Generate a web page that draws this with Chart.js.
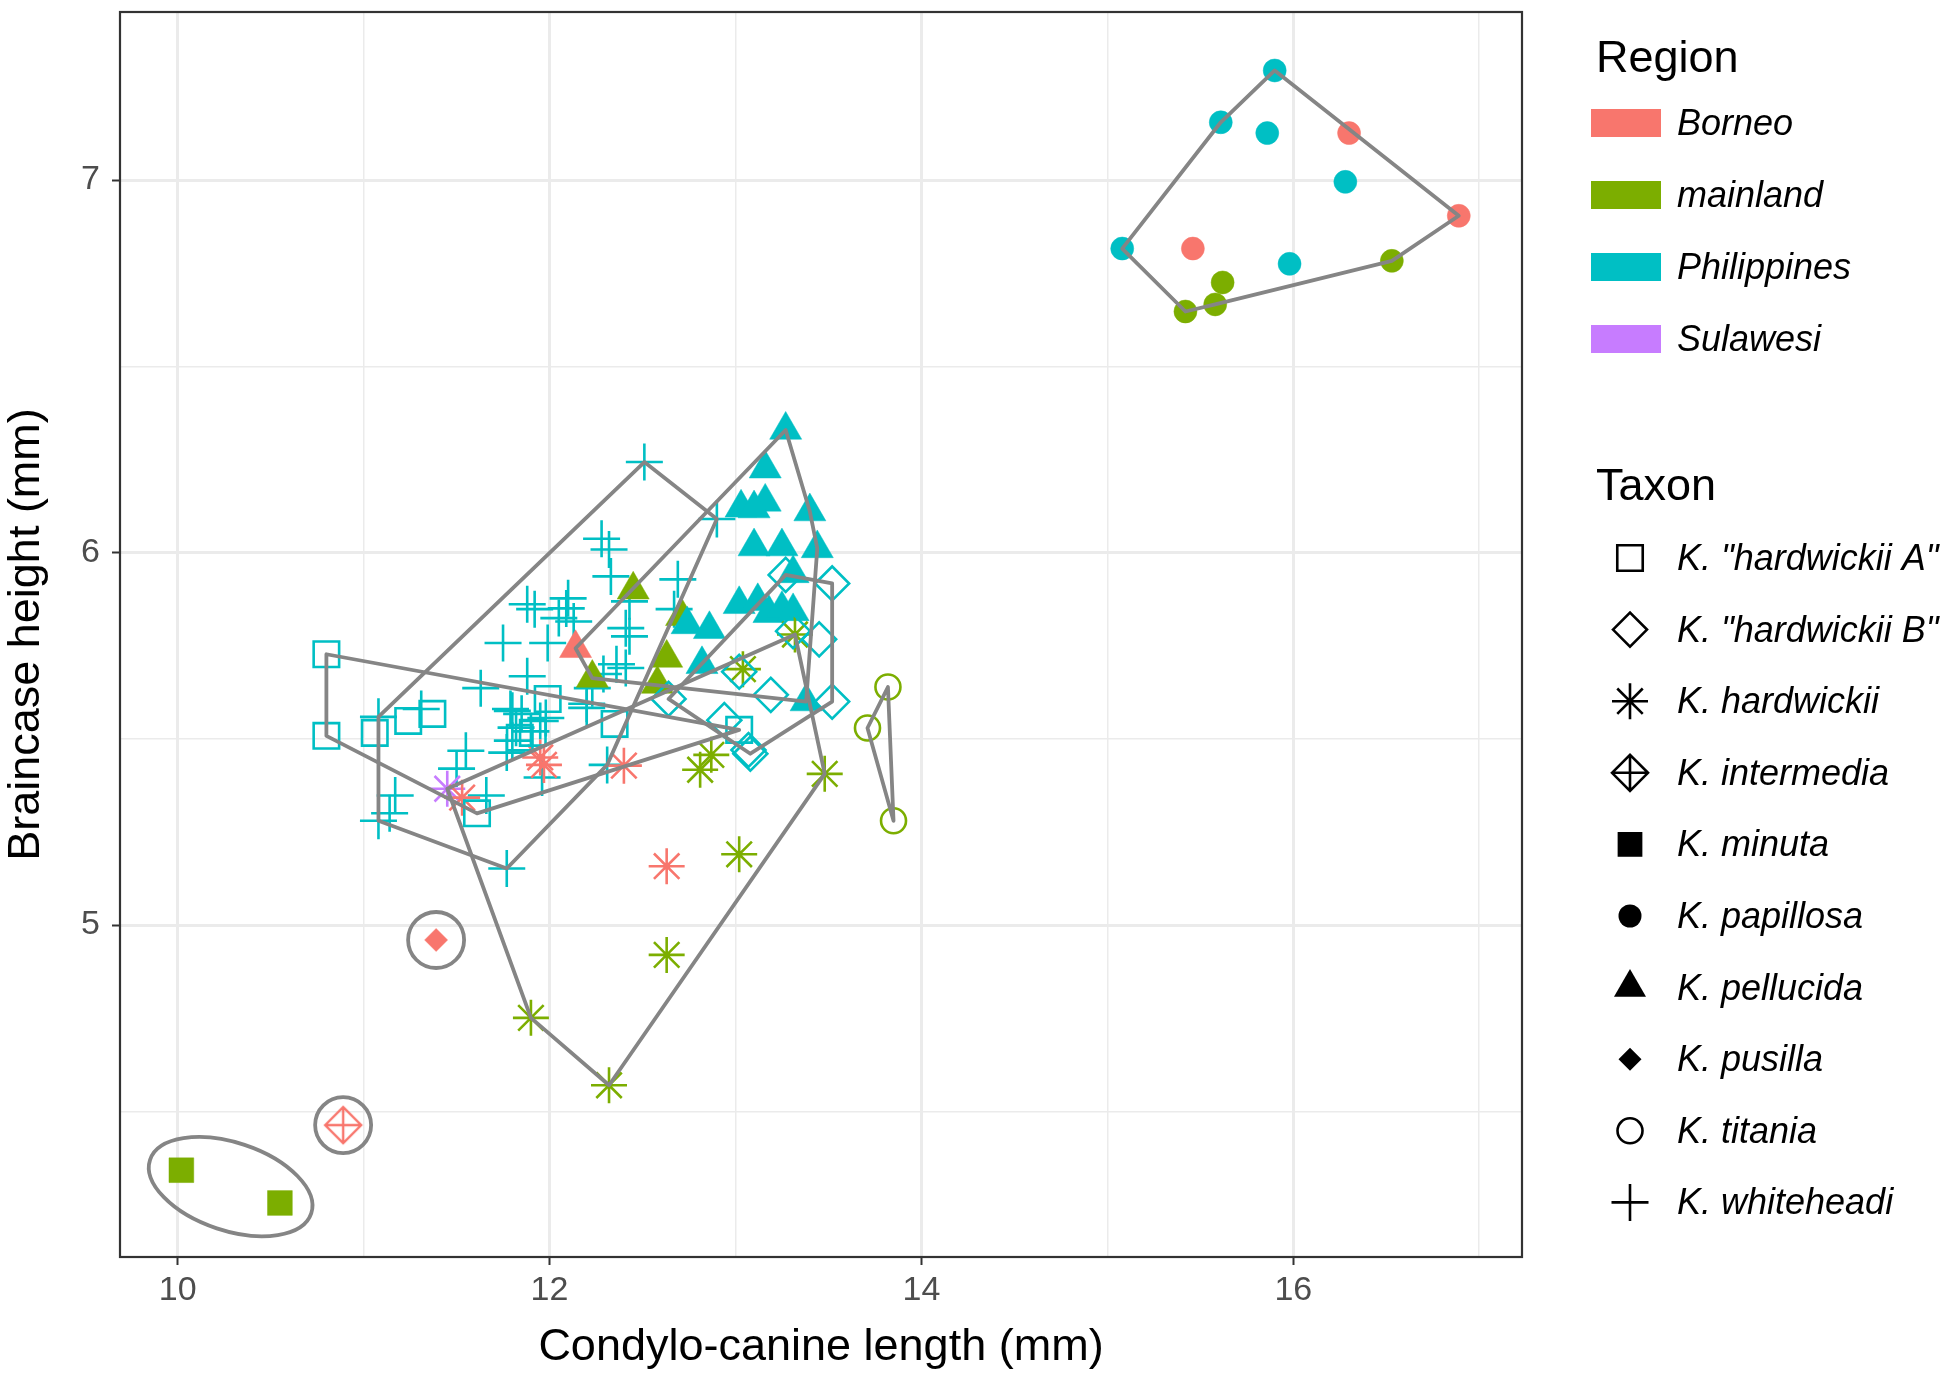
<!DOCTYPE html>
<html>
<head>
<meta charset="utf-8">
<script src="https://cdn.jsdelivr.net/npm/chart.js@4.4.0/dist/chart.umd.min.js"></script>
<style>html,body{margin:0;padding:0;background:#fff}</style>
</head>
<body>
<canvas id="c" width="1948" height="1382"></canvas>
<script>
// region / taxon names
const regions = ['Borneo', 'mainland', 'Philippines', 'Sulawesi'];
const regionColors = ['#F8766D', '#7CAE00', '#00BFC4', '#C77CFF'];
const taxa = ['K. "hardwickii A"', 'K. "hardwickii B"', 'K. hardwickii', 'K. intermedia', 'K. minuta',
  'K. papillosa', 'K. pellucida', 'K. pusilla', 'K. titania', 'K. whiteheadi'];

// axis breaks
const xBreaks = [10, 11, 12, 13, 14, 15, 16, 17];
const xLabels = [10, 12, 14, 16];
const yBreaks = [4.5, 5, 5.5, 6, 6.5, 7];
const yLabels = [5, 6, 7];

// [condylo-canine length, braincase height]
const hardA_phil = [[10.80,5.727],[10.80,5.508],[11.06,5.516],[11.24,5.548],[11.37,5.567],[11.61,5.30],
  [11.84,5.503],[11.91,5.516],[11.99,5.607],[12.35,5.54],[13.02,5.524]];
const hardB_phil = [[12.64,5.607],[12.94,5.55],[13.08,5.46],[13.07,5.47],[13.19,5.618],[13.52,5.60],
  [13.45,5.767],[13.52,5.917],[13.27,5.94],[13.02,5.68],[13.31,5.789]];
const hardw_born = [[11.53,5.342],[11.95,5.45],[11.97,5.43],[12.40,5.428],[12.63,5.158]];
const hardw_main = [[11.90,4.751],[12.32,4.57],[12.63,4.92],[13.02,5.19],[13.48,5.406],[12.81,5.417],
  [12.87,5.457],[13.04,5.687],[13.32,5.78]];
const hardw_sula = [[11.45,5.366]];
const inter_born = [[10.89,4.463]];
const minuta_main = [[10.02,4.342],[10.55,4.254]];
const papil_phil = [[15.90,7.294],[15.61,7.155],[15.86,7.126],[16.28,6.995],[15.08,6.816],[15.98,6.775]];
const papil_born = [[16.30,7.126],[16.89,6.904],[15.46,6.816]];
const papil_main = [[16.53,6.783],[15.62,6.725],[15.58,6.666],[15.42,6.647]];
const pellu_phil = [[13.27,6.329],[13.16,6.225],[13.03,6.12],[13.16,6.136],[13.10,6.118],[13.40,6.11],
  [13.10,6.016],[13.25,6.016],[13.44,6.011],[13.31,5.944],[13.02,5.861],[13.12,5.869],[13.18,5.837],
  [13.25,5.848],[13.31,5.842],[12.74,5.807],[12.86,5.794],[12.82,5.70],[13.38,5.60]];
const pellu_main = [[12.45,5.90],[12.71,5.829],[12.63,5.717],[12.58,5.647],[12.23,5.663]];
const pellu_born = [[12.14,5.743]];
const pusil_born = [[11.39,4.96]];
const titan_main = [[13.82,5.639],[13.71,5.529],[13.85,5.28]];
const white_phil = [[12.51,6.243],[12.90,6.09],[12.28,6.037],[12.32,6.008],[12.33,5.936],[12.69,5.928],
  [12.67,5.848],[11.88,5.861],[11.92,5.848],[12.10,5.877],[12.05,5.824],[12.13,5.815],[12.09,5.85],
  [11.75,5.757],[11.99,5.757],[12.41,5.797],[12.43,5.775],[12.43,5.869],[11.88,5.668],[12.36,5.70],
  [12.41,5.69],[11.63,5.636],[12.23,5.636],[12.29,5.674],[11.80,5.575],[11.85,5.567],[12.20,5.594],
  [11.08,5.559],[11.31,5.58],[11.55,5.468],[11.50,5.42],[11.66,5.348],[11.17,5.348],[11.14,5.30],
  [11.08,5.28],[11.79,5.58],[11.82,5.53],[11.90,5.52],[11.95,5.548],[11.98,5.556],[11.77,5.463],
  [11.80,5.495],[11.96,5.396],[11.77,5.152],[12.31,5.43],[12.20,5.583]];

// taxon index, region index, points
const series = [
  [0, 2, hardA_phil], [1, 2, hardB_phil],
  [2, 0, hardw_born], [2, 1, hardw_main], [2, 3, hardw_sula],
  [3, 0, inter_born], [4, 1, minuta_main],
  [5, 2, papil_phil], [5, 0, papil_born], [5, 1, papil_main],
  [6, 2, pellu_phil], [6, 1, pellu_main], [6, 0, pellu_born],
  [7, 0, pusil_born], [8, 1, titan_main], [9, 2, white_phil]
];

// marker per taxon
const shapes = [
  {style: 'rect', r: 18, fill: false},
  {style: 'rectRot', r: 17, fill: false},
  {style: 'star', r: 18, fill: false},
  {style: 'diamondPlus', r: 18, fill: false},
  {style: 'rect', r: 17.5, fill: true},
  {style: 'circle', r: 11.5, fill: true},
  {style: 'triangle', r: 18.5, fill: true},
  {style: 'rectRot', r: 11.5, fill: true},
  {style: 'circle', r: 12.5, fill: false},
  {style: 'cross', r: 18.5, fill: false}
];

const FONT = 'Liberation Sans, Arial, sans-serif';
Chart.defaults.font.family = FONT;

function diamondPlus(color, r) {
  const c = document.createElement('canvas');
  const s = Math.ceil(2 * r + 6);
  c.width = s; c.height = s;
  const g = c.getContext('2d');
  const m = s / 2;
  g.strokeStyle = color; g.lineWidth = 2.4;
  g.beginPath();
  g.moveTo(m - r, m); g.lineTo(m, m - r); g.lineTo(m + r, m); g.lineTo(m, m + r); g.closePath();
  g.moveTo(m - r, m); g.lineTo(m + r, m);
  g.moveTo(m, m - r); g.lineTo(m, m + r);
  g.stroke();
  return c;
}

const datasets = series.map(([t, rg, pts]) => {
  const sh = shapes[t];
  const col = regionColors[rg];
  return {
    label: taxa[t] + ' / ' + regions[rg],
    data: pts.map(p => ({x: p[0], y: p[1]})),
    pointStyle: sh.style === 'diamondPlus' ? diamondPlus(col, sh.r) : sh.style,
    pointRadius: sh.r,
    borderColor: col,
    backgroundColor: sh.fill ? col : 'rgba(0,0,0,0)',
    borderWidth: sh.fill ? 0.5 : 2.6,
    showLine: false
  };
});

// convex hull (monotone chain) in pixel space
function hull(pts) {
  const p = pts.slice().sort((a, b) => a[0] - b[0] || a[1] - b[1]);
  const cross = (o, a, b) => (a[0] - o[0]) * (b[1] - o[1]) - (a[1] - o[1]) * (b[0] - o[0]);
  const lo = [], up = [];
  for (const q of p) { while (lo.length >= 2 && cross(lo[lo.length - 2], lo[lo.length - 1], q) <= 0) lo.pop(); lo.push(q); }
  for (let i = p.length - 1; i >= 0; i--) { const q = p[i]; while (up.length >= 2 && cross(up[up.length - 2], up[up.length - 1], q) <= 0) up.pop(); up.push(q); }
  up.pop(); lo.pop();
  return lo.concat(up);
}

const hullPlugin = {
  id: 'hulls',
  afterDatasetsDraw(chart) {
    const {ctx, scales: {x, y}, chartArea: a} = chart;
    ctx.save();
    ctx.beginPath(); ctx.rect(a.left, a.top, a.right - a.left, a.bottom - a.top); ctx.clip();
    ctx.strokeStyle = '#858585'; ctx.lineWidth = 3.8; ctx.lineJoin = 'round';
    taxa.forEach((t, ti) => {
      const pts = series.filter(s => s[0] === ti).flatMap(s => s[2])
        .map(p => [x.getPixelForValue(p[0]), y.getPixelForValue(p[1])]);
      ctx.beginPath();
      if (pts.length === 1) {
        ctx.arc(pts[0][0], pts[0][1], 28, 0, Math.PI * 2);
      } else if (pts.length === 2) {
        const cx = (pts[0][0] + pts[1][0]) / 2, cy = (pts[0][1] + pts[1][1]) / 2;
        const dx = pts[1][0] - pts[0][0], dy = pts[1][1] - pts[0][1];
        ctx.ellipse(cx, cy, Math.hypot(dx, dy) / 2 + 33, 44, Math.atan2(dy, dx), 0, Math.PI * 2);
      } else {
        const h = hull(pts);
        h.forEach((p, i) => i ? ctx.lineTo(p[0], p[1]) : ctx.moveTo(p[0], p[1]));
        ctx.closePath();
      }
      ctx.stroke();
    });
    ctx.restore();
    // panel border
    ctx.save();
    ctx.strokeStyle = '#333333'; ctx.lineWidth = 2.2;
    ctx.strokeRect(a.left, a.top, a.right - a.left, a.bottom - a.top);
    ctx.restore();
  }
};

function drawSymbol(ctx, sh, x, y, color) {
  const r = sh.r;
  ctx.save();
  ctx.strokeStyle = color; ctx.fillStyle = color; ctx.lineWidth = 2.6;
  ctx.beginPath();
  switch (sh.style) {
    case 'rect': { const s = r * Math.SQRT1_2; ctx.rect(x - s, y - s, 2 * s, 2 * s); break; }
    case 'rectRot': ctx.moveTo(x - r, y); ctx.lineTo(x, y - r); ctx.lineTo(x + r, y); ctx.lineTo(x, y + r); ctx.closePath(); break;
    case 'circle': ctx.arc(x, y, r, 0, Math.PI * 2); break;
    case 'triangle': {
      for (let k = 0; k < 3; k++) { const ang = k * 2 * Math.PI / 3; const px = x + Math.sin(ang) * r, py = y - Math.cos(ang) * r; k ? ctx.lineTo(px, py) : ctx.moveTo(px, py); }
      ctx.closePath(); break;
    }
    case 'cross': ctx.moveTo(x - r, y); ctx.lineTo(x + r, y); ctx.moveTo(x, y - r); ctx.lineTo(x, y + r); break;
    case 'star': {
      const d = r * Math.SQRT1_2;
      ctx.moveTo(x - r, y); ctx.lineTo(x + r, y); ctx.moveTo(x, y - r); ctx.lineTo(x, y + r);
      ctx.moveTo(x - d, y - d); ctx.lineTo(x + d, y + d); ctx.moveTo(x - d, y + d); ctx.lineTo(x + d, y - d); break;
    }
    case 'diamondPlus':
      ctx.moveTo(x - r, y); ctx.lineTo(x, y - r); ctx.lineTo(x + r, y); ctx.lineTo(x, y + r); ctx.closePath();
      ctx.moveTo(x - r, y); ctx.lineTo(x + r, y); ctx.moveTo(x, y - r); ctx.lineTo(x, y + r); break;
  }
  if (sh.fill) ctx.fill(); else ctx.stroke();
  ctx.restore();
}

const legendPlugin = {
  id: 'twoLegends',
  afterDraw(chart) {
    const ctx = chart.ctx;
    ctx.save();
    ctx.fillStyle = '#000';
    ctx.textAlign = 'left';
    ctx.textBaseline = 'alphabetic';
    ctx.font = '45px ' + FONT;
    ctx.fillText('Region', 1596, 72);
    ctx.font = 'italic 36px ' + FONT;
    ctx.textBaseline = 'middle';
    regions.forEach((r, i) => {
      const cy = 123 + i * 72;
      ctx.fillStyle = regionColors[i];
      ctx.fillRect(1591, cy - 14, 70, 28);
      ctx.fillStyle = '#000';
      ctx.fillText(r, 1677, cy + 2);
    });
    ctx.textBaseline = 'alphabetic';
    ctx.font = '45px ' + FONT;
    ctx.fillText('Taxon', 1596, 500);
    ctx.textBaseline = 'middle';
    ctx.font = 'italic 36px ' + FONT;
    taxa.forEach((t, i) => {
      const cy = 558 + i * 71.6;
      drawSymbol(ctx, shapes[i], 1630, cy, '#000');
      ctx.fillStyle = '#000';
      ctx.fillText(t, 1677, cy + 2);
    });
    ctx.restore();
  }
};

function gridOpts(labels) {
  return {
    color: '#EBEBEB',
    lineWidth: c => labels.includes(c.tick.value) ? 3 : 1.5,
    tickColor: c => labels.includes(c.tick.value) ? '#333333' : 'rgba(0,0,0,0)',
    tickWidth: 2,
    tickLength: 8,
    drawTicks: true
  };
}

new Chart(document.getElementById('c'), {
  type: 'scatter',
  data: {datasets: datasets},
  options: {
    responsive: false,
    animation: false,
    layout: {autoPadding: false, padding: {left: 0, right: 426, top: 12, bottom: 0}},
    plugins: {legend: {display: false}, tooltip: {enabled: false}},
    scales: {
      x: {
        type: 'linear', min: 9.69, max: 17.23,
        afterBuildTicks: s => { s.ticks = xBreaks.map(v => ({value: v})); },
        afterFit: s => { s.height = 125; s.paddingLeft = 0; s.paddingRight = 0; },
        border: {display: false},
        grid: gridOpts(xLabels),
        ticks: {autoSkip: false, maxRotation: 0, padding: 5, color: '#4D4D4D', font: {size: 34},
          callback: v => xLabels.includes(v) ? String(v) : ''},
        title: {display: true, text: 'Condylo-canine length (mm)', color: '#000', font: {size: 45}, padding: {top: 0, bottom: 7}}
      },
      y: {
        type: 'linear', min: 4.109, max: 7.451,
        afterBuildTicks: s => { s.ticks = yBreaks.map(v => ({value: v})); },
        afterFit: s => { s.width = 120; s.paddingTop = 0; s.paddingBottom = 0; },
        border: {display: false},
        grid: gridOpts(yLabels),
        ticks: {autoSkip: false, padding: 12, color: '#4D4D4D', font: {size: 34},
          callback: v => yLabels.includes(v) ? String(v) : ''},
        title: {display: true, text: 'Braincase height (mm)', color: '#000', font: {size: 45}, padding: {top: 0, bottom: 0}}
      }
    }
  },
  plugins: [hullPlugin, legendPlugin]
});
</script>
</body>
</html>
